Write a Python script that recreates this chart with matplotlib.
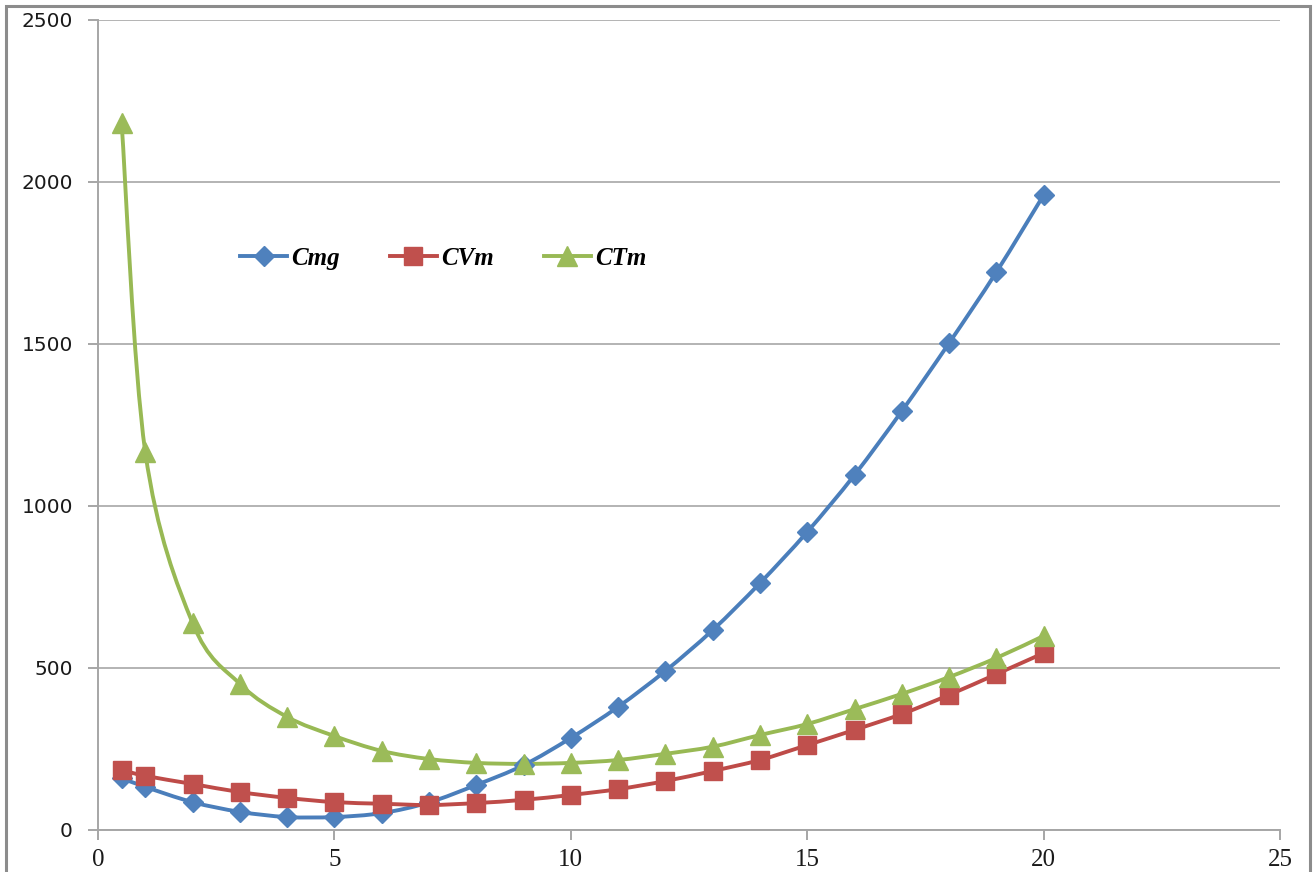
import matplotlib
matplotlib.use("Agg")
import matplotlib.pyplot as plt
import numpy as np
from matplotlib.path import Path
from matplotlib.patches import PathPatch, Rectangle
from matplotlib.lines import Line2D

# quantities
x = [0.5, 1, 2, 3, 4, 5, 6, 7, 8, 9, 10,
     11, 12, 13, 14, 15, 16, 17, 18, 19, 20]

# marginal cost
cmg = [160, 133, 86, 56, 40, 40, 52, 85, 139, 200, 284,
       380, 491, 617, 762, 920, 1096, 1293, 1503, 1722, 1960]

# average variable cost
cvm = [185, 167, 142, 117, 99, 86, 81, 77, 83, 93, 108,
       126, 151, 182, 216, 262, 309, 358, 417, 481, 546]

# average total cost
ctm = [2182, 1167, 639, 451, 349, 290, 244, 219, 207, 204, 207,
       216, 235, 257, 293, 327, 373, 420, 472, 531, 599]

series = [
    ('Cmg', cmg, '#4A7EBB', '#4F81BD', 'D', 10),
    ('CVm', cvm, '#BE4B48', '#C0504D', 's', 12.5),
    ('CTm', ctm, '#98B954', '#9BBB59', '^', 14),
]


def _smooth_path(xs, ys):
    # catmull-rom through the points, expressed as cubic bezier segments
    p = np.column_stack([xs, ys]).astype(float)
    ext = np.vstack([p[0], p, p[-1]])
    verts = [p[0]]
    codes = [Path.MOVETO]
    for i in range(1, len(ext) - 2):
        c1 = ext[i] + (ext[i + 1] - ext[i - 1]) / 6
        c2 = ext[i + 1] - (ext[i + 2] - ext[i]) / 6
        verts += [c1, c2, ext[i + 1]]
        codes += [Path.CURVE4] * 3
    return Path(verts, codes)


fig = plt.figure(figsize=(13.15, 8.72), dpi=100)
ax = fig.add_axes([0.0745, 0.0482, 0.899, 0.9289])

# outer chart border
fig.patches.append(Rectangle(
    (0.0046, -0.05), 0.9916, 1.043, transform=fig.transFigure,
    fill=False, edgecolor='#8c8c8c', linewidth=2.2, zorder=0
))

handles = []
for name, vals, lcol, mcol, mk, ms in series:
    ax.add_patch(PathPatch(
        _smooth_path(x, vals), facecolor='none', edgecolor=lcol,
        linewidth=2.8, zorder=3, capstyle='round'
    ))
    ax.plot(x, vals, linestyle='none', marker=mk, markersize=ms,
            color=mcol, markeredgecolor=mcol, zorder=4, clip_on=False)
    handles.append(Line2D([], [], color=lcol, linewidth=2.8, marker=mk,
                          markersize=ms, markerfacecolor=mcol,
                          markeredgecolor=mcol, label=name))

ax.set_xlim(0, 25)
ax.set_ylim(0, 2500)
ax.set_xticks([0, 5, 10, 15, 20, 25])
ax.set_yticks([0, 500, 1000, 1500, 2000, 2500])

ax.grid(axis='y', color='#b3b3b3', linewidth=1.4, zorder=0)
ax.set_axisbelow(True)

for side in ['top', 'right']:
    ax.spines[side].set_visible(False)
for side in ['left', 'bottom']:
    ax.spines[side].set_color('#a6a6a6')
    ax.spines[side].set_linewidth(1.4)

ax.tick_params(axis='both', direction='out', length=7, width=1.4,
               color='#a6a6a6')
ax.tick_params(axis='y', pad=11, labelsize=14.5)
ax.tick_params(axis='x', pad=7, labelsize=18)
for lbl in ax.get_yticklabels():
    lbl.set_fontfamily('DejaVu Sans')
    lbl.set_color('#1a1a1a')
for lbl in ax.get_xticklabels():
    lbl.set_fontfamily('Liberation Serif')
    lbl.set_color('#1a1a1a')

ax.legend(
    handles=handles, loc='center left', bbox_to_anchor=(0.12, 0.706),
    ncol=3, frameon=False, borderpad=0, borderaxespad=0,
    handlelength=1.9, handletextpad=0.15, columnspacing=2.0,
    prop={'family': 'Liberation Serif', 'style': 'italic',
          'weight': 'bold', 'size': 18}
)

fig.savefig('out.png', dpi=100)
plt.close()
